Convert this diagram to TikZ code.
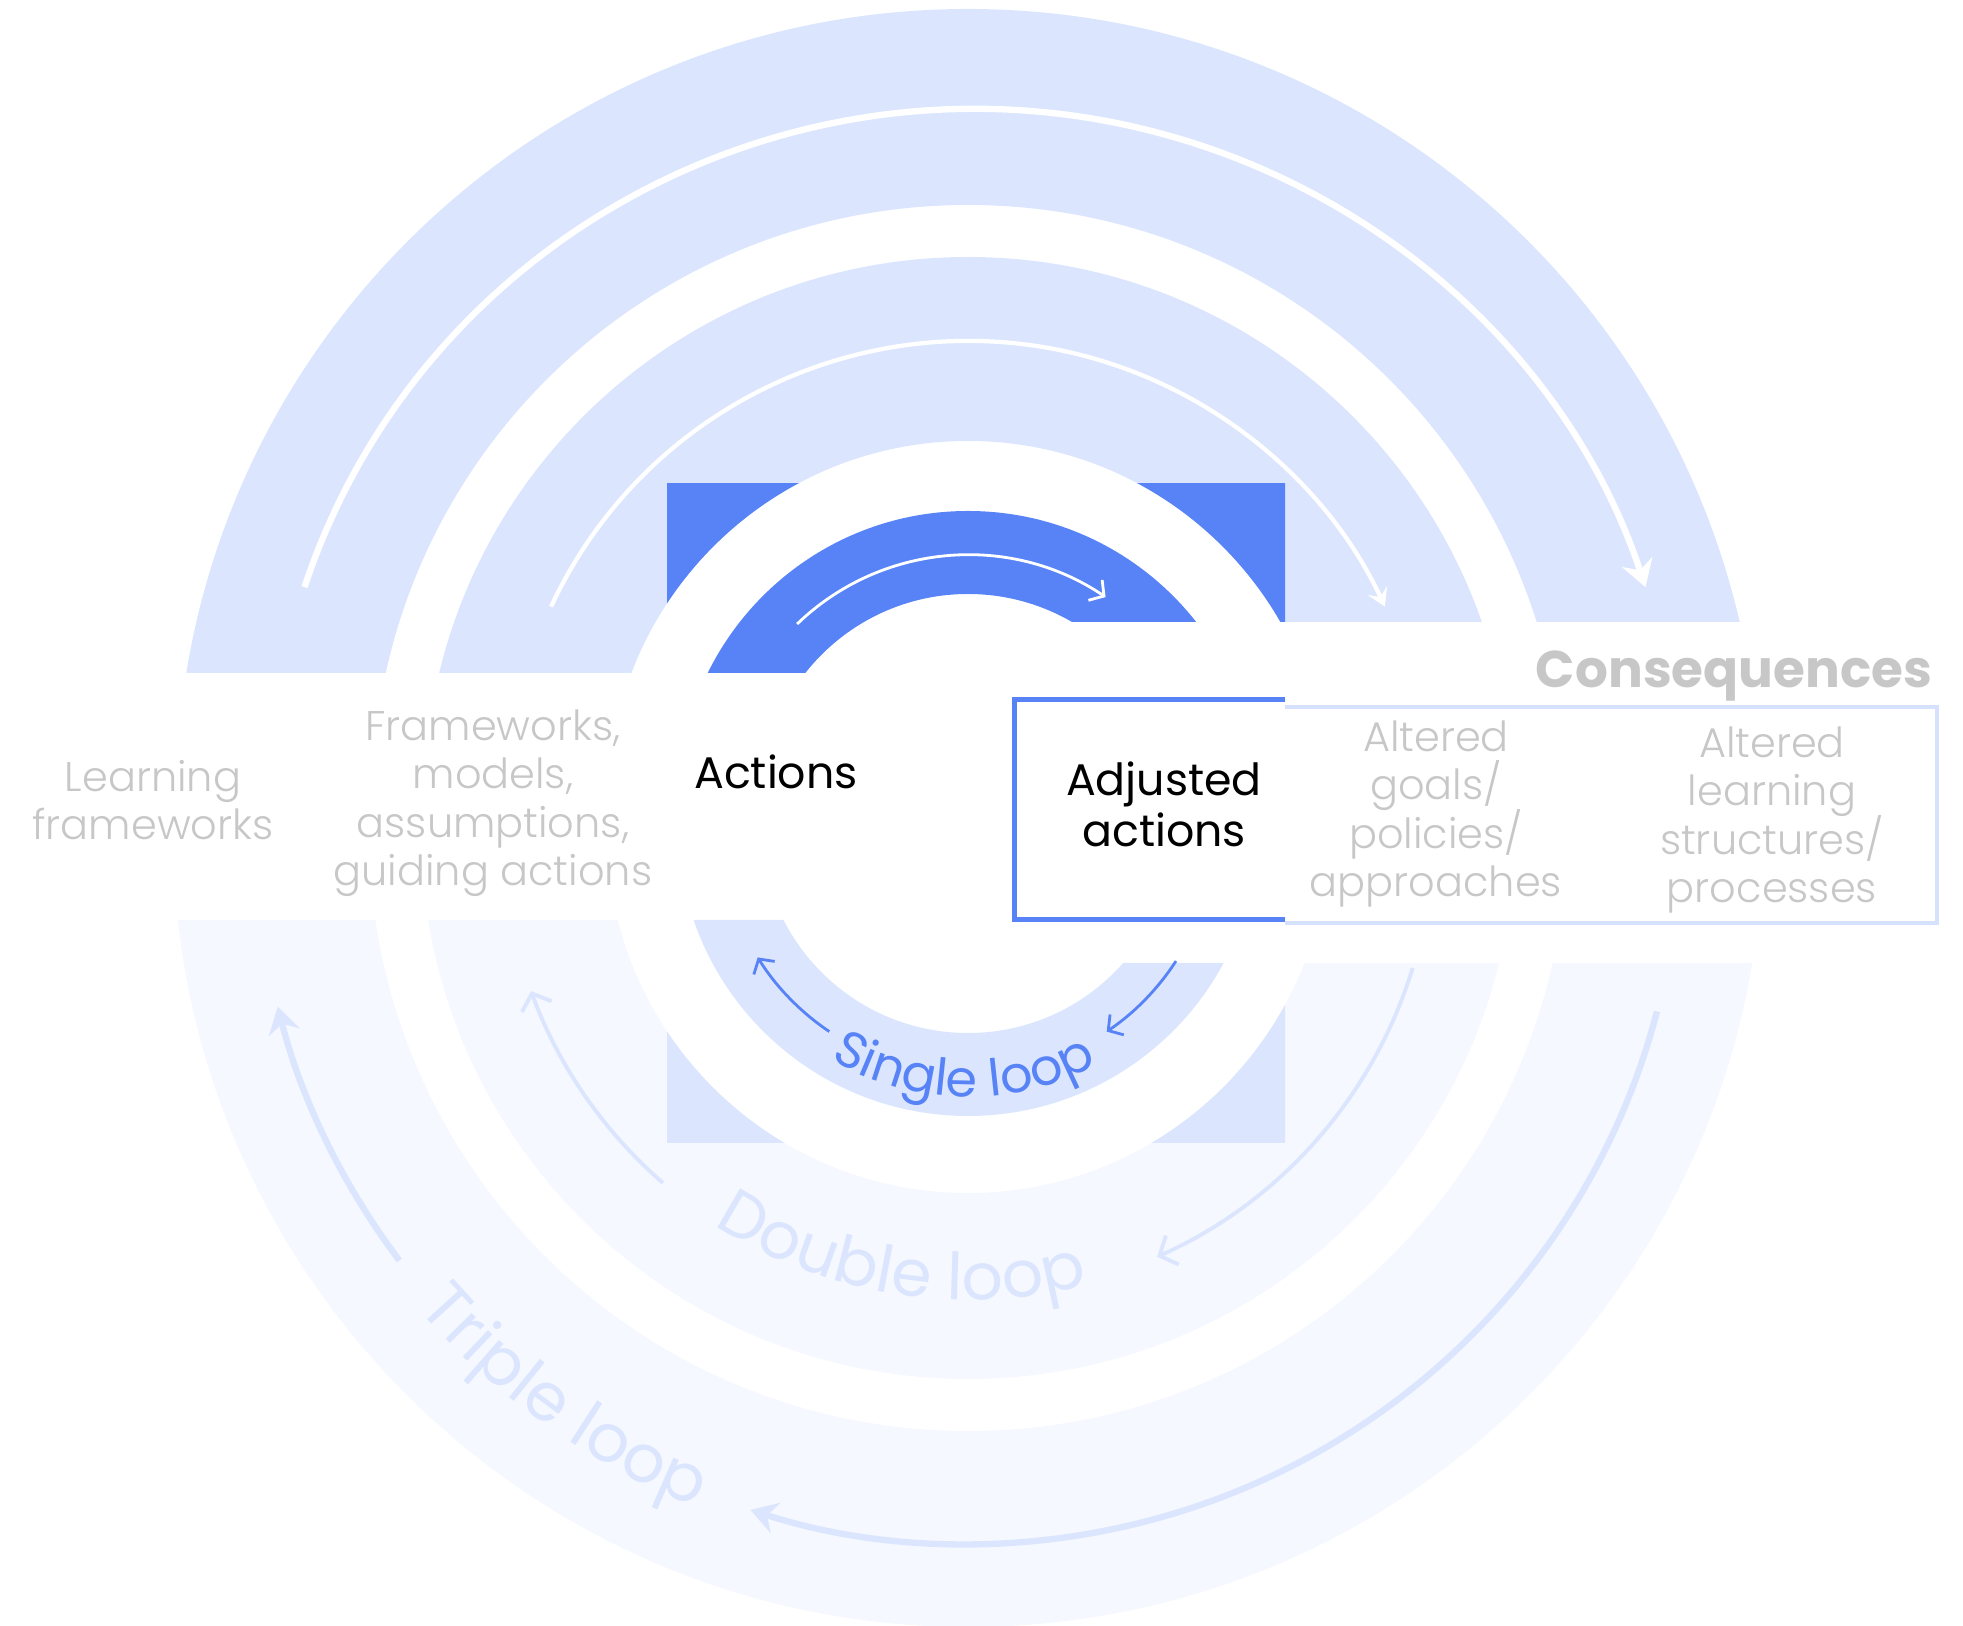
\documentclass[tikz,border=0pt]{standalone}
\usepackage{fontspec}
\setmainfont{Poppins}
\IfFontExistsTF{Poppins Light}{\newfontfamily\lightfont{Poppins Light}}{\newfontfamily\lightfont{Poppins}}
\newcommand\tightlines{\lineskiplimit-20pt\relax}
\usetikzlibrary{arrows.meta,decorations.text}
\definecolor{bandlight}{RGB}{219,230,254}
\definecolor{bandpale}{RGB}{245,248,255}
\definecolor{loopblue}{RGB}{87,131,247}
\definecolor{labelgray}{RGB}{199,199,199}
\definecolor{boxline}{RGB}{214,226,253}
\tikzset{
  graylabel/.style={text=labelgray, align=center, font=\lightfont\fontsize{11.8}{13.8}\selectfont\tightlines},
  blacklabel/.style={text=black, align=center, font=\fontsize{12.6}{14.5}\selectfont},
  looptext/.style={decorate, decoration={text along path, text align=center, text={#1}}},
  bigtip/.style={-{Stealth[length=7.5pt,width=9pt,inset=2.5pt]}},
  smalltip/.style={-{Straight Barb[length=3pt,width=7pt]}}
}
\begin{document}
\begin{tikzpicture}[x=0.1mm, y=0.1mm]
    \useasboundingbox (0,0) rectangle (1963,1626);
    \coordinate (T) at (968,825);
    \coordinate (Tr) at (975,825);
    \coordinate (B) at (968,794);
    \coordinate (S) at (968,800);

    \begin{scope}
        \clip (0,1626) -- (1963,1626) -- (1963,1004) -- (1014,1004) -- (1014,953) -- (0,953) -- cycle;
        \fill[bandlight, even odd rule] (T) circle[radius=792] (T) circle[radius=596];
        \fill[bandlight, even odd rule] (T) circle[radius=544] (T) circle[radius=360];
        \begin{scope}
            \clip (667,940) rectangle (1285,1142);
            \fill[loopblue, even odd rule] (650,920) rectangle (1300,1160) (T) circle[radius=360];
        \end{scope}
        \fill[loopblue, even odd rule] (T) circle[radius=290] (T) circle[radius=207];
    \end{scope}

    \begin{scope}
        \clip (0,0) -- (1963,0) -- (1963,663) -- (1014,663) -- (1014,706) -- (0,706) -- cycle;
        \fill[bandpale, even odd rule] (B) circle[radius=795] (B) circle[radius=599];
        \fill[bandpale, even odd rule] (B) circle[radius=547] (B) circle[radius=361];
        \begin{scope}
            \clip (667,483) rectangle (1285,720);
            \fill[bandlight, even odd rule] (650,465) rectangle (1300,740) (B) circle[radius=361];
        \end{scope}
        \fill[bandlight, even odd rule] (S) circle[radius=290] (S) circle[radius=207];
    \end{scope}

    \draw[white, line width=1.8pt, bigtip] (Tr) ++(162:705 and 692) arc[start angle=162, end angle=18, x radius=705, y radius=692];
    \draw[white, line width=1.2pt, -{Stealth[length=5pt,width=6pt,inset=2pt]}] (T) ++(155:460) arc[start angle=155, end angle=25, radius=460];
    \draw[white, line width=0.8pt, smalltip] (T) ++(134:246) arc[start angle=134, end angle=56, radius=246];

    \draw[bandlight, line width=1.8pt, bigtip] (B) ++(-14.6:712) arc[start angle=-14.6, end angle=-107.8, radius=712];
    \draw[bandlight, line width=1.8pt, bigtip] (B) ++(-143:712) arc[start angle=-143, end angle=-165.8, radius=712];
    \draw[bandlight, line width=1.1pt, -{Straight Barb[length=4pt,width=9pt]}] (B) ++(-17:465) arc[start angle=-17, end angle=-66, radius=465];
    \draw[bandlight, line width=1.1pt, -{Straight Barb[length=4pt,width=9pt]}] (B) ++(-131:465) arc[start angle=-131, end angle=-160, radius=465];
    \draw[loopblue, line width=0.8pt, smalltip] (S) ++(-33:248) arc[start angle=-33, end angle=-56, radius=248];
    \draw[loopblue, line width=0.8pt, smalltip] (S) ++(-124:248) arc[start angle=-124, end angle=-148, radius=248];

    \path[looptext={|\fontsize{19}{22}\selectfont\color{bandlight}|Triple loop}] (B) ++(-148:728) arc[start angle=-148, end angle=-103, radius=728];
    \path[looptext={|\fontsize{18.5}{22}\selectfont\color{bandlight}|Double loop}] (B) ++(-134:468) arc[start angle=-134, end angle=-64, radius=468];
    \path[looptext={|\fontsize{14.5}{17}\selectfont\color{loopblue}|Single loop}] (S) ++(-127:271) arc[start angle=-127, end angle=-55, radius=271];

    \draw[loopblue, line width=0.5mm] (1285,926) -- (1014,926) -- (1014,706) -- (1285,706);
    \draw[boxline, line width=0.4mm] (1285,919) -- (1937,919) -- (1937,703) -- (1285,703);

    \node[graylabel] (learn) at (153,826) {Learning\\frameworks};
    \node[graylabel] (frame) at (493,823) {Frameworks,\\models,\\assumptions,\\guiding actions};
    \node[blacklabel] (act) at (776,854) {Actions};
    \node[blacklabel] (adj) at (1164,822) {Adjusted\\actions};
    \node[graylabel] (goals) at (1436,812) {Altered\\goals/\\policies/\\approaches};
    \node[graylabel] (struct) at (1772,806) {Altered\\learning\\structures/\\processes};
    \node[text=labelgray, font=\fontsize{14.7}{18}\selectfont\bfseries] (cons) at (1734,950) {Consequences};
\end{tikzpicture}
\end{document}
